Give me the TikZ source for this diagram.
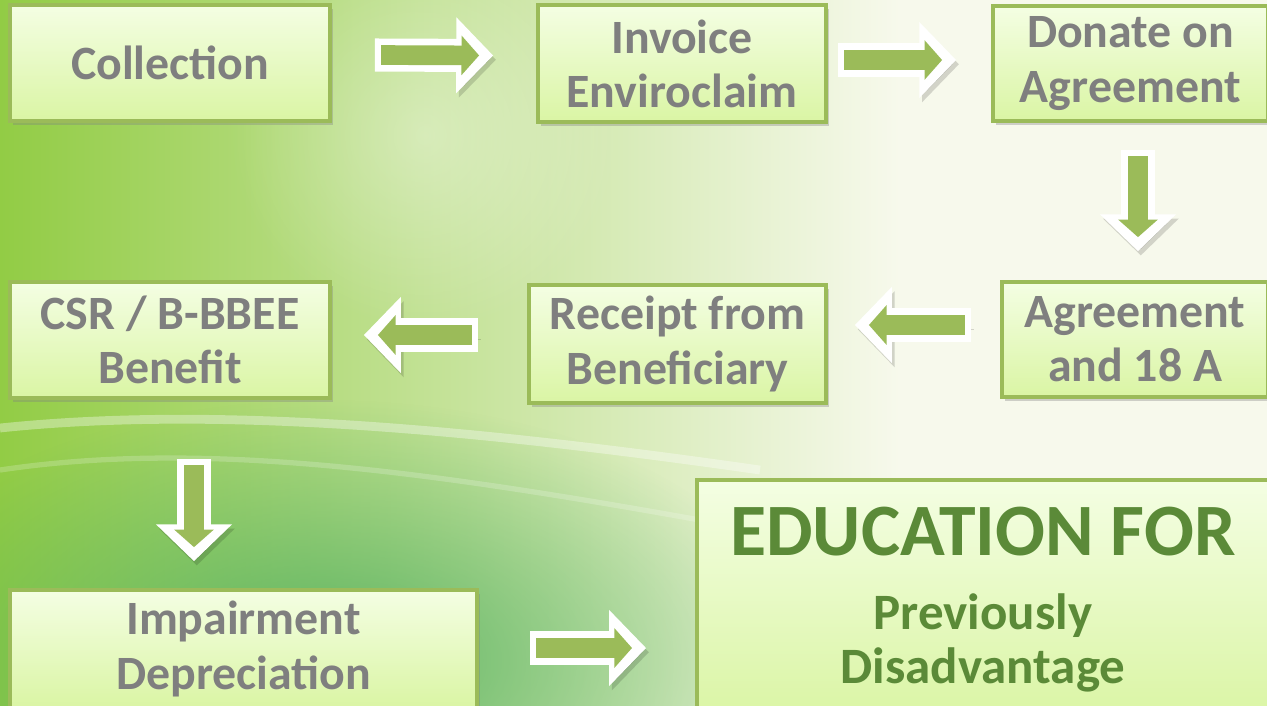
\documentclass[tikz,border=0pt]{standalone}
\usepackage{fontspec}
\setmainfont{Carlito}
\usetikzlibrary{calc,arrows.meta,shadows,fadings}
\definecolor{CLeaf}{HTML}{92CC45}
\definecolor{CLeafDark}{HTML}{4DAD5E}
\definecolor{CPale}{HTML}{F7F9EC}
\definecolor{CBoxTop}{HTML}{F4FEE3}
\definecolor{CBoxBot}{HTML}{DAF5A4}
\definecolor{CLine}{HTML}{9BBB59}
\definecolor{CGray}{HTML}{7F7F7F}
\definecolor{CEdu}{HTML}{5B8A38}

\tikzfading[name=softblob, inner color=transparent!0, outer color=transparent!100]

\tikzset{
  stepbox/.style={draw=CLine, line width=1pt, top color=CBoxTop, bottom color=CBoxBot,
    inner sep=0pt, align=center, text=CGray,
    font=\fontsize{13.6}{15.4}\selectfont\bfseries,
    drop shadow={shadow xshift=0.8pt, shadow yshift=-1.2pt, opacity=0.35}},
  blockarrow/.style={line width=9.4pt, white, -{Triangle[length=10.5pt, width=21pt]},
    preaction={draw=black, opacity=0.15, transform canvas={shift={(0.8pt,-1.2pt)}}},
    postaction={draw=CLine, line width=5.6pt, -{Triangle[length=5pt, width=11pt]},
      shorten <=1.8pt, shorten >=4pt}}
}

\begin{document}
\begin{tikzpicture}[x=0.01cm, y=-0.01cm]

  % ============================================
  % Background (leaf picture, roughly)
  % ============================================
  \useasboundingbox (0,0) rectangle (1267,705);
  \clip (0,0) rectangle (1267,705);
  \fill[CPale] (0,0) rectangle (1267,705);
  \shade[left color=CLeaf, right color=CPale] (0,0) rectangle (900,705);
  \fill[CLeafDark, path fading=softblob, fill opacity=0.85] (-150,400) rectangle (800,920);
  \fill[white, path fading=softblob, fill opacity=0.35] (230,-60) rectangle (620,330);
  % light streaks
  \draw[white, line width=2.5pt, opacity=0.35] (0,428) .. controls (220,405) and (480,430) .. (760,470);
  \draw[white, line width=1.5pt, opacity=0.2] (0,470) .. controls (200,440) and (420,470) .. (700,520);

  % ============================================
  % Row 1
  % ============================================
  \node[stepbox, minimum width=3.2cm, minimum height=1.16cm] (coll) at (170,63) {Collection};
  \node[stepbox, minimum width=2.88cm, minimum height=1.17cm] (inv) at (682,63.5) {Invoice\\Enviroclaim};
  \node[stepbox, minimum width=2.75cm, minimum height=1.15cm] (don) at (1130.5,63.5) {Donate on\\Agreement};

  % ============================================
  % Row 2
  % ============================================
  \node[stepbox, minimum width=2.66cm, minimum height=1.15cm] (agr) at (1135,339.5) {Agreement\\and 18 A};
  \node[stepbox, minimum width=2.97cm, minimum height=1.18cm] (rec) at (677.5,344) {Receipt from\\Beneficiary};
  \node[stepbox, minimum width=3.2cm, minimum height=1.16cm] (csr) at (170,340) {CSR / B-BBEE\\Benefit};

  % ============================================
  % Row 3
  % ============================================
  \node[stepbox, minimum width=4.67cm, minimum height=1.18cm] (imp) at (243.5,649) {Impairment\\Depreciation};
  \node[stepbox, text=CEdu, font=\fontsize{14.5}{15.4}\selectfont\bfseries,
    minimum width=5.72cm, minimum height=2.4cm] (edu) at (983,600)
    {{\fontsize{21}{25}\selectfont EDUCATION FOR}\\[5.6pt]Previously\\Disadvantage};

  % ============================================
  % Block arrows
  % ============================================
  \draw[blockarrow] ($(coll.east)+(43,-8)$) -- ($(inv.west)+(-43,-8)$);
  \draw[blockarrow] ($(inv.east)+(10,-3.5)$) -- ($(don.west)+(-35,-3.5)$);
  \draw[blockarrow] ($(don.south)+(7.5,27)$) -- ($(agr.north)+(3,-29)$);
  \draw[blockarrow] ($(agr.west)+(-29,-14.5)$) -- ($(rec.east)+(27,-19)$);
  \draw[blockarrow] ($(rec.west)+(-49,-9)$) -- ($(csr.east)+(32,-5)$);
  \draw[blockarrow] ($(csr.south)+(24,59)$) -- ($(imp.north)+(-49.5,-27)$);
  \draw[blockarrow] ($(imp.east)+(51,-1)$) -- ($(edu.west)+(-49,48)$);

\end{tikzpicture}
\end{document}
